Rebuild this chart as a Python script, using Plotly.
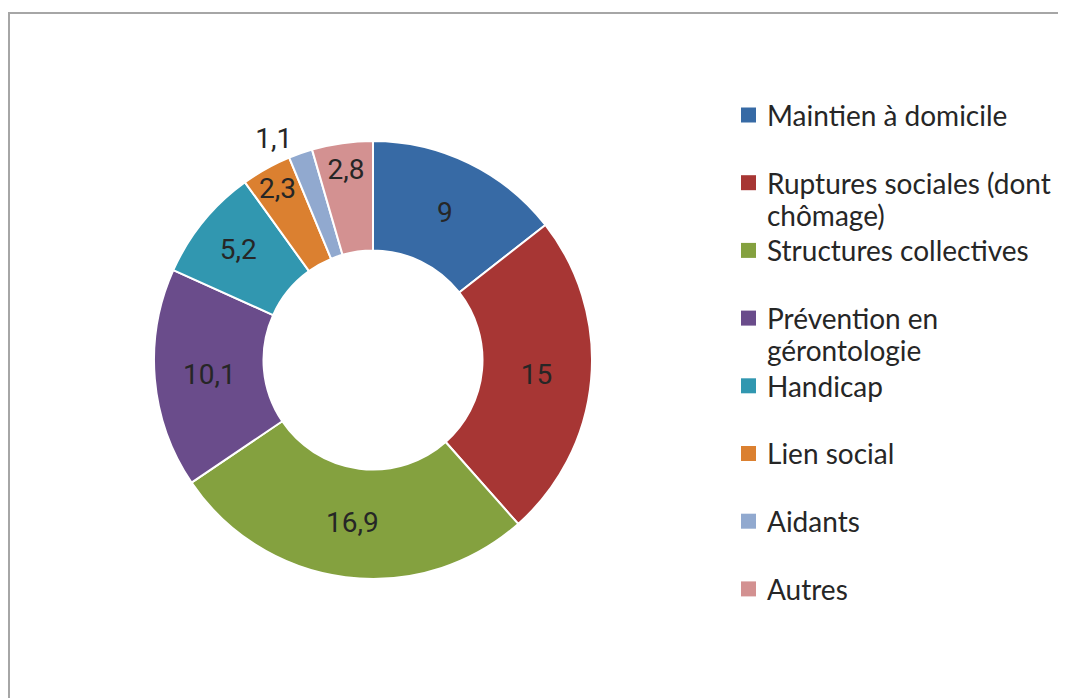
import plotly.graph_objects as go

# page body has an 8px margin, so the figure is drawn 8px smaller and
# reference pixel positions are shifted by that offset
OFF = 8
W, H = 1066 - OFF, 698 - OFF


def px(x):
    return (x - OFF) / W


def py(y):
    return (H - (y - OFF)) / H


categories = [
    "Maintien à domicile",
    "Ruptures sociales (dont chômage)",
    "Structures collectives",
    "Prévention en gérontologie",
    "Handicap",
    "Lien social",
    "Aidants",
    "Autres",
]
legend_text = [
    "Maintien à domicile",
    "Ruptures sociales (dont<br>chômage)",
    "Structures collectives",
    "Prévention en<br>gérontologie",
    "Handicap",
    "Lien social",
    "Aidants",
    "Autres",
]
values = [9, 15, 16.9, 10.1, 5.2, 2.3, 1.1, 2.8]
colors = ["#376AA5", "#A73634", "#84A13F", "#6A4C8B", "#3197B0", "#DB8030", "#91A9CF", "#D39191"]
label_pos = ["inside", "inside", "inside", "inside", "inside", "inside", "outside", "inside"]

fig = go.Figure(
    go.Pie(
        labels=categories,
        values=values,
        hole=0.5,
        sort=False,
        direction="clockwise",
        rotation=0,
        marker=dict(colors=colors, line=dict(color="white", width=2)),
        texttemplate="%{value}",
        textposition=label_pos,
        insidetextorientation="horizontal",
        textfont=dict(family="Roboto", size=28, color="#262626"),
        domain=dict(x=[px(154), px(592)], y=[py(579), py(141)]),
        showlegend=False,
    )
)

# chart frame
shapes = [
    dict(type="rect", xref="paper", yref="paper",
         x0=px(9), x1=1.02, y0=-0.02, y1=py(13),
         line=dict(color="#A6A6A6", width=2), fillcolor="rgba(0,0,0,0)")
]

# legend drawn as squares + text, one slot per category
annotations = []
slot0, step, line_h = 115, 67.7, 32
for i, (txt, col) in enumerate(zip(legend_text, colors)):
    yc = slot0 + i * step
    shapes.append(dict(type="rect", xref="paper", yref="paper",
                       x0=px(741), x1=px(756), y0=py(yc + 7.5), y1=py(yc - 7.5),
                       line=dict(width=0), fillcolor=col))
    for j, line in enumerate(txt.split("<br>")):
        annotations.append(dict(xref="paper", yref="paper", x=px(765), y=py(yc + j * line_h),
                                xanchor="left", yanchor="middle", align="left", showarrow=False,
                                text=line, font=dict(family="Lato", size=28, color="#262626")))

fig.update_layout(
    width=W, height=H,
    margin=dict(t=0, l=0, r=0, b=0),
    paper_bgcolor="white",
    separators=", ",
    uniformtext=dict(minsize=28, mode="show"),
    shapes=shapes,
    annotations=annotations,
)

fig.write_html("out.html")
